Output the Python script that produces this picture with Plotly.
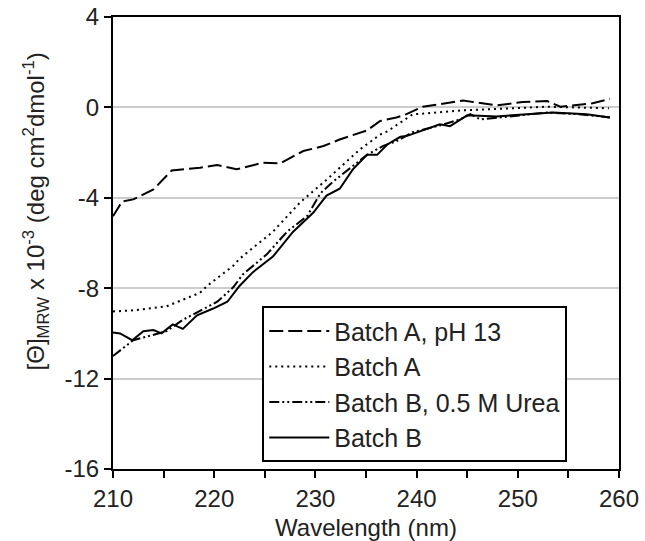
import plotly.graph_objects as go

# Batch A, pH 13 (long dash)
wl_a13 = [210, 210.9, 212, 214, 215.8, 218.6, 220.3, 222.2, 224.8, 226.5, 228.8, 230.8, 232.4,
          235.1, 236.4, 238, 239, 240.6, 244.6, 247.9, 250.5, 252.9, 254.2, 257.4, 259.1]
th_a13 = [-4.82, -4.16, -4.07, -3.63, -2.79, -2.67, -2.55, -2.74, -2.45, -2.48, -1.93, -1.71, -1.42,
          -1.02, -0.6, -0.45, -0.3, 0.03, 0.3, 0.09, 0.24, 0.28, 0.03, 0.18, 0.38]

# Batch A (dotted)
wl_a = [210, 212, 215.3, 216.9, 218.6, 219.3, 221.9, 222.5, 225.8, 228.5, 231.1, 234.4, 236.4,
        237.1, 239.6, 244.6, 252.9, 259]
th_a = [-9.03, -8.98, -8.8, -8.5, -8.2, -7.9, -7.0, -6.7, -5.5, -4.2, -3.2, -1.86, -1.2,
        -1.06, -0.31, -0.13, 0.03, -0.04]

# Batch B, 0.5 M Urea (dash-dot-dot)
wl_bu = [210, 212, 213.7, 215.3, 216.9, 218.6, 220.3, 221.9, 222.8, 225.2, 227.2, 229.2, 230.5,
         231.7, 233.4, 235.1, 236.7, 238, 239.6, 242.3, 244.3, 245.3, 246.3, 249.5, 252.9, 256.1, 259.1]
th_bu = [-11.0, -10.3, -10.1, -9.9, -9.4, -9.0, -8.6, -7.95, -7.4, -6.5, -5.5, -4.8, -3.8,
         -3.3, -2.7, -2.1, -1.7, -1.5, -1.1, -0.8, -0.53, -0.3, -0.53, -0.4, -0.23, -0.3, -0.45]

# Batch B (solid)
wl_b = [210, 210.7, 211.9, 213, 214, 214.8, 215.9, 216.9, 218.3, 219.9, 221.3, 222.5, 223.8,
        225.8, 227.8, 229.8, 231.1, 232.4, 233.7, 235.1, 236.1, 237.1, 238.4, 239, 242.3, 243.3,
        245, 247.9, 250.9, 253.5, 256.8, 259.1]
th_b = [-9.96, -10.0, -10.3, -9.9, -9.85, -10.0, -9.6, -9.8, -9.2, -8.9, -8.6, -7.9, -7.3,
        -6.6, -5.5, -4.65, -3.9, -3.6, -2.74, -2.1, -2.1, -1.64, -1.3, -1.27, -0.75, -0.83,
        -0.35, -0.4, -0.3, -0.23, -0.3, -0.45]

y_ticks = [4, 0, -4, -8, -12, -16]
y_ticktext = ["4", "0", "-4", "-8", "-12", "-16"]

series = [
    ("Batch A, pH 13", wl_a13, th_a13, "14px,5px"),
    ("Batch A", wl_a, th_a, "2px,4px"),
    ("Batch B, 0.5 M Urea", wl_bu, th_bu, "10px,3px,2px,3px,2px,3px"),
    ("Batch B", wl_b, th_b, "solid"),
]

fig = go.Figure()
for name, x, y, dash in series:
    fig.add_trace(go.Scatter(x=x, y=y, name=name, mode="lines",
                             line=dict(color="black", width=2, dash=dash)))

font = "Liberation Sans, Arial, sans-serif"
txt = "#222"
fig.update_layout(
    width=645, height=541,
    margin=dict(l=113, r=26, t=17, b=72),
    plot_bgcolor="white", paper_bgcolor="white",
    font=dict(family=font, size=24, color=txt),
    showlegend=True,
    legend=dict(x=0.295, y=0.36, xanchor="left", yanchor="top",
                bgcolor="white", bordercolor="black", borderwidth=2,
                font=dict(family=font, size=25, color=txt), itemwidth=60),
)
fig.update_xaxes(range=[210, 260], dtick=10, tick0=210, ticks="outside", ticklen=7, tickwidth=2,
                 tickcolor="black", showline=True, linecolor="black", linewidth=2, mirror=True,
                 showgrid=False, zeroline=False, automargin=False,
                 minor=dict(dtick=5, ticks="outside", ticklen=7, tickwidth=2, tickcolor="black"),
                 title=dict(text="Wavelength (nm)", standoff=10,
                            font=dict(family=font, size=24, color=txt)))
fig.update_yaxes(range=[-16, 4], tickvals=y_ticks, ticktext=y_ticktext, ticks="outside", ticklen=7,
                 tickwidth=2, tickcolor="black", showline=True, linecolor="black", linewidth=2,
                 mirror=True, showgrid=True, gridcolor="#cccccc", gridwidth=2, zeroline=False,
                 automargin=False)
fig.add_annotation(text="[Θ]<sub>MRW</sub> x 10<sup>-3</sup> (deg cm<sup>2</sup>dmol<sup>-1</sup>)",
                   xref="paper", yref="paper", x=-0.152, y=0.57, xanchor="center", yanchor="middle",
                   textangle=-90, showarrow=False, font=dict(family=font, size=24, color=txt))

fig.write_html("out.html", config={"displayModeBar": False},
               post_script="document.body.style.margin='0';")
